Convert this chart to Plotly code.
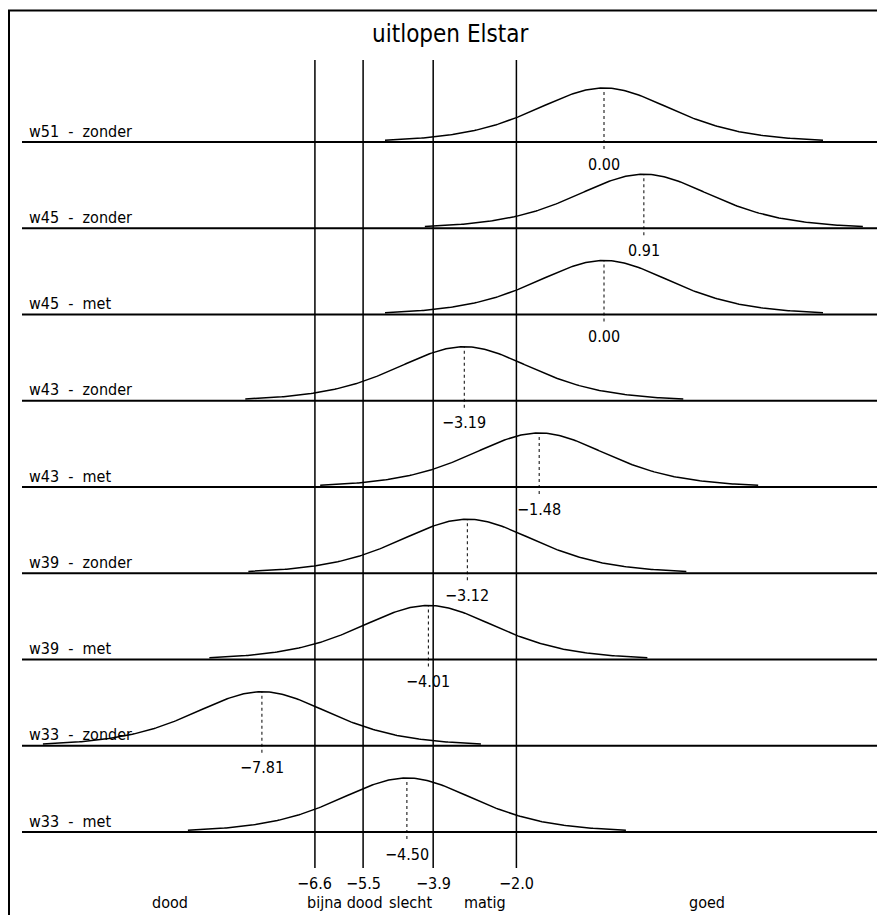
import numpy as np
import plotly.graph_objects as go

# ---------------- data ----------------
TITLE = "uitlopen Elstar"
ROW_LABELS = ["w51 - zonder", "w45 - zonder", "w45 - met", "w43 - zonder", "w43 - met",
              "w39 - zonder", "w39 - met", "w33 - zonder", "w33 - met"]
MEANS = [0.00, 0.91, 0.00, -3.19, -1.48, -3.12, -4.01, -7.81, -4.50]
BOUNDARIES = [-6.6, -5.5, -3.9, -2.0]
BOUNDARY_LABELS = ["-6.6", "-5.5", "-3.9", "-2.0"]
CLASS_LABELS = ["dood", "bijna dood", "slecht", "matig", "goed"]
CLASS_LABEL_X = [-9.91, -5.00, -4.95, -2.72, 2.35]
CLASS_LABEL_ANCHOR = ["center", "right", "left", "center", "center"]
SPREAD = 1.05      # logistic scale of the drawn distributions
HALF_SPAN = 5.0    # curves drawn from mean-5 to mean+5

# ---------------- layout geometry ----------------
W, H = 877, 915
PX_PER_X = 43.8
X0_PX = 604
ROW_PX = 86.25
BASE0_PX = 142


def xr(px):
    return (px - X0_PX) / PX_PER_X


def yr(py):
    return (BASE0_PX - py) / ROW_PX


PEAK = 54 / ROW_PX
FONT = "Liberation Sans Narrow, DejaVu Sans Condensed, Roboto Condensed, Arial Narrow, DejaVu Sans, sans-serif"


def minus(s):
    return s.replace("-", "\u2212")


fig = go.Figure()
shapes = []
annotations = []

for i, (lab, m) in enumerate(zip(ROW_LABELS, MEANS)):
    base = -i
    shapes.append(dict(type="line", xref="x", yref="y", x0=xr(22), x1=xr(W + 10),
                       y0=base, y1=base, line=dict(color="black", width=2), layer="below"))
    xs = np.linspace(m - HALF_SPAN, m + HALF_SPAN, 241)
    u = np.exp(-(xs - m) / SPREAD)
    ys = base + PEAK * 4 * u / (1 + u) ** 2
    fig.add_trace(go.Scatter(x=xs, y=ys, mode="lines", line=dict(color="black", width=1.5),
                             hoverinfo="skip", showlegend=False))
    fig.add_trace(go.Scatter(x=[m, m], y=[base - 7 / ROW_PX, base + PEAK], mode="lines",
                             line=dict(color="black", width=1, dash="dot"),
                             hoverinfo="skip", showlegend=False))
    annotations.append(dict(x=27 / W, xref="paper", y=base, yref="y", xanchor="left",
                            yanchor="middle", yshift=11, showarrow=False,
                            text=lab.replace(" ", "\u00a0\u00a0"),
                            font=dict(family=FONT, size=16, color="black")))
    annotations.append(dict(x=m, y=base, xref="x", yref="y", xanchor="center",
                            yanchor="middle", yshift=-22, showarrow=False,
                            text=minus(f"{m:.2f}"),
                            font=dict(family=FONT, size=16, color="black")))

last = -(len(MEANS) - 1)
for b, bl in zip(BOUNDARIES, BOUNDARY_LABELS):
    shapes.append(dict(type="line", xref="x", yref="y", x0=b, x1=b, y0=yr(868), y1=yr(60),
                       line=dict(color="black", width=1.5), layer="below"))
    annotations.append(dict(x=b, y=last, xref="x", yref="y", xanchor="center", yanchor="middle",
                            yshift=-51, showarrow=False, text=minus(bl),
                            font=dict(family=FONT, size=16, color="black")))

for cl, cx, anc in zip(CLASS_LABELS, CLASS_LABEL_X, CLASS_LABEL_ANCHOR):
    annotations.append(dict(x=cx, y=last, xref="x", yref="y", xanchor=anc, yanchor="middle",
                            yshift=-70, showarrow=False, text=cl,
                            font=dict(family=FONT, size=16, color="black")))

annotations.append(dict(x=450 / W, y=1 - 34 / H, xref="paper", yref="paper", xanchor="center",
                        yanchor="middle", showarrow=False, text=TITLE,
                        font=dict(family=FONT, size=24, color="black")))

# frame (left and top edges visible)
shapes.append(dict(type="rect", xref="paper", yref="paper", x0=9 / W, x1=1.05,
                   y0=-0.05, y1=1 - 10.5 / H, line=dict(color="black", width=2)))

fig.update_layout(
    width=W, height=H, autosize=False,
    margin=dict(l=0, r=0, t=0, b=0),
    paper_bgcolor="white", plot_bgcolor="white",
    xaxis=dict(range=[xr(0), xr(W)], visible=False, fixedrange=True),
    yaxis=dict(range=[yr(H), yr(0)], visible=False, fixedrange=True),
    shapes=shapes, annotations=annotations, showlegend=False,
)

fig.write_html("out.html", post_script="document.body.style.margin='0';",
               config={"displayModeBar": False, "staticPlot": True})
